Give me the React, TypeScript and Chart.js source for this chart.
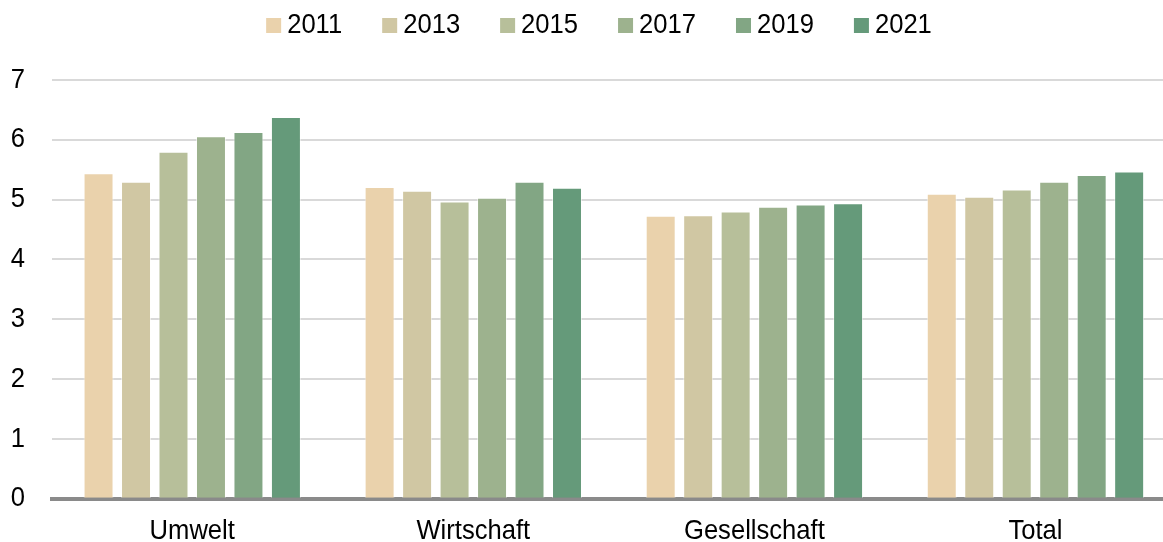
import React, { useEffect, useRef } from "react";
import { Chart, registerables } from "chart.js";

Chart.register(...registerables);

const categories = ["Umwelt", "Wirtschaft", "Gesellschaft", "Total"];
const years = ["2011", "2013", "2015", "2017", "2019", "2021"];
const v2011 = [5.44, 5.21, 4.73, 5.1];
const v2013 = [5.3, 5.15, 4.74, 5.05];
const v2015 = [5.8, 4.97, 4.8, 5.17];
const v2017 = [6.06, 5.03, 4.88, 5.3];
const v2019 = [6.13, 5.3, 4.92, 5.41];
const v2021 = [6.38, 5.2, 4.94, 5.47];
const seriesValues = [v2011, v2013, v2015, v2017, v2019, v2021];
const colors = ["#EAD2AC", "#D0C7A3", "#B7BF9A", "#9DB28E", "#82A684", "#659A7A"];
const yTicks = [0, 1, 2, 3, 4, 5, 6, 7];

const FONT = "'Liberation Sans', Arial, sans-serif";
const FS = 25.6;
const SY = 1.08;

const legendPlugin = {
  id: "customLegend",
  afterDraw(chart: any) {
    const ctx = chart.ctx;
    ctx.save();
    ctx.font = `${FS}px ${FONT}`;
    ctx.textBaseline = "middle";
    ctx.textAlign = "left";
    const box = 15;
    const gapText = 6;
    const gapItem = 40;
    const ds = chart.data.datasets;
    const widths = ds.map((d: any) => ctx.measureText(d.label).width);
    const total =
      widths.reduce((a: number, w: number) => a + box + gapText + w, 0) + gapItem * (ds.length - 1);
    let x = 599 - total / 2;
    const cy = 25.5;
    ds.forEach((d: any, i: number) => {
      ctx.fillStyle = d.backgroundColor;
      ctx.fillRect(x, cy - box / 2, box, box);
      ctx.fillStyle = "#000";
      ctx.fillText(d.label, x + box + gapText, cy - 0.5);
      x += box + gapText + widths[i] + gapItem;
    });
    ctx.restore();
  },
};

export default function App() {
  const ref = useRef<HTMLCanvasElement>(null);
  useEffect(() => {
    if (!ref.current) return;
    const ctx = ref.current.getContext("2d") as any;
    const orig = CanvasRenderingContext2D.prototype.fillText;
    ctx.fillText = function (text: string, x: number, y: number, maxWidth?: number) {
      this.save();
      this.translate(x, y);
      this.scale(1, SY);
      if (maxWidth !== undefined) orig.call(this, text, 0, 0, maxWidth);
      else orig.call(this, text, 0, 0);
      this.restore();
    };
    const chart = new Chart(ctx, {
      type: "bar",
      data: {
        labels: categories,
        datasets: years.map((y, i) => ({
          label: y,
          data: seriesValues[i],
          backgroundColor: colors[i],
          borderColor: "rgba(255,255,255,0.55)",
          borderWidth: 1,
          barPercentage: 0.8,
          categoryPercentage: 0.8,
        })),
      },
      options: {
        animation: false,
        responsive: false,
        maintainAspectRatio: false,
        layout: { padding: { left: 10.5, right: 0, top: 80, bottom: 0 } },
        plugins: {
          legend: { display: false },
          tooltip: { enabled: false },
        },
        scales: {
          x: {
            z: 1,
            afterFit: (scale: any) => {
              scale.height = 43.3;
            },
            grid: { display: false, drawTicks: false },
            border: { display: true, color: "#8a8a8a", width: 4 },
            ticks: { color: "#000", font: { family: FONT, size: FS }, padding: 17.5 },
          },
          y: {
            min: 0,
            max: 7,
            afterFit: (scale: any) => {
              scale.width = 41.2;
            },
            afterBuildTicks: (axis: any) => {
              axis.ticks = yTicks.map((v) => ({ value: v }));
            },
            grid: { color: "#d9d9d9", lineWidth: 2, drawTicks: false },
            border: { display: false },
            ticks: { color: "#000", font: { family: FONT, size: FS }, padding: 26.7 },
          },
        },
      },
      plugins: [legendPlugin],
    });
    return () => chart.destroy();
  }, []);
  return (
    <div style={{ position: "absolute", left: 0, top: 0, width: 1163, height: 542, overflow: "hidden" }}>
      <canvas ref={ref} width={1176} height={542} style={{ width: 1176, height: 542, display: "block" }} />
    </div>
  );
}
